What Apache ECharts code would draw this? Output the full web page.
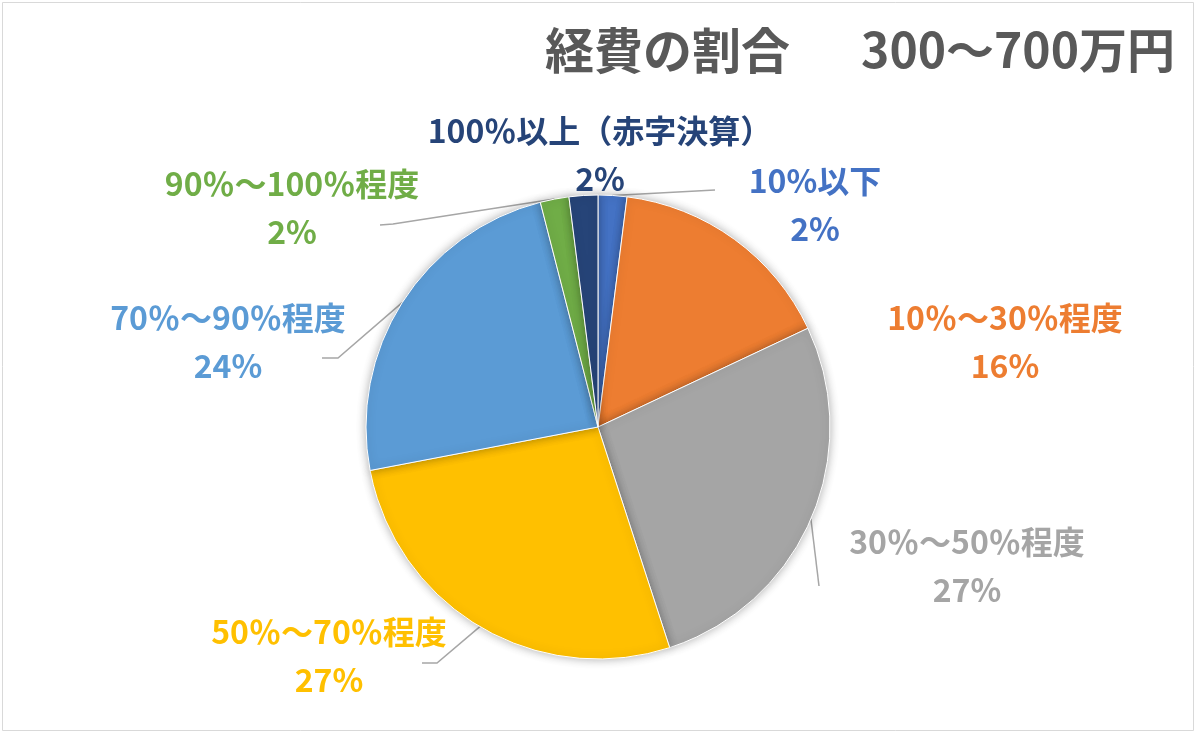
<!DOCTYPE html>
<html>
<head>
<meta charset="utf-8">
<script src="https://cdn.jsdelivr.net/npm/echarts@6/dist/echarts.min.js"></script>
<style>
    html, body { margin: 0; padding: 0; background: #fff; }
    #chart { width: 1200px; height: 739px; }
</style>
</head>
<body>
<div id="chart"></div>
<script>
// data
let categories = ['10%以下', '10％〜30％程度', '30％〜50％程度', '50％〜70％程度', '70％〜90％程度', '90％〜100％程度', '100％以上（赤字決算）'];
let shares = [2, 16, 27, 27, 24, 2, 2];
let sliceColors = ['#4472C4', '#ED7D31', '#A5A5A5', '#FFC000', '#5B9BD5', '#70AD47', '#264478'];
let hasLeader = [true, false, true, true, true, true, false];

// label placement (text block centre) and leader bends
let labelPos = [[815, 205], [1005, 342], [967, 566], [329, 656], [228, 342], [292, 208], [600, 155]];
let lineBends = [
    [[715, 190]],
    null,
    [[819, 586]],
    [[437, 663], [422, 663]],
    [[338, 358], [322, 358]],
    [[393, 224], [380, 225]],
    null
];

let chart = echarts.init(document.getElementById('chart'));
let font = '"Noto Sans CJK JP", "Noto Sans", sans-serif';

let option = {
    backgroundColor: '#ffffff',
    graphic: [
        {
            type: 'rect',
            shape: {x: 2.5, y: 2.5, width: 1191, height: 728},
            style: {fill: 'none', stroke: '#d9d9d9', lineWidth: 1}
        },
        {
            type: 'text',
            left: 545,
            top: 26,
            style: {text: '経費の割合', font: 'bold 49px ' + font, fill: '#595959'}
        },
        {
            type: 'text',
            right: 25,
            top: 26,
            style: {text: '300〜700万円', font: 'bold 48px ' + font, fill: '#595959'}
        }
    ],
    series: [
        {
            type: 'pie',
            center: [598, 427],
            radius: 232,
            startAngle: 90,
            clockwise: true,
            avoidLabelOverlap: false,
            itemStyle: {
                borderColor: '#ffffff',
                borderWidth: 1,
                shadowBlur: 10,
                shadowColor: 'rgba(0,0,0,0.3)'
            },
            label: {
                show: true,
                position: 'outside',
                formatter: '{b}\n{c}%',
                fontFamily: font,
                fontWeight: 'bold',
                fontSize: 32,
                lineHeight: 48,
                align: 'center'
            },
            labelLine: {
                show: true,
                length: 20,
                length2: 20,
                lineStyle: {color: '#a6a6a6', width: 1.5}
            },
            labelLayout: function (params) {
                let i = params.dataIndex;
                let res = {
                    x: labelPos[i][0],
                    y: labelPos[i][1],
                    align: 'center',
                    verticalAlign: 'middle'
                };
                if (lineBends[i] && params.labelLinePoints) {
                    res.labelLinePoints = [params.labelLinePoints[0]].concat(lineBends[i]);
                }
                return res;
            },
            emphasis: {disabled: true},
            data: categories.map(function (name, i) {
                return {
                    name: name,
                    value: shares[i],
                    itemStyle: {color: sliceColors[i]},
                    label: {color: sliceColors[i]},
                    labelLine: {show: hasLeader[i]}
                };
            })
        }
    ]
};
chart.setOption(option);
</script>
</body>
</html>
